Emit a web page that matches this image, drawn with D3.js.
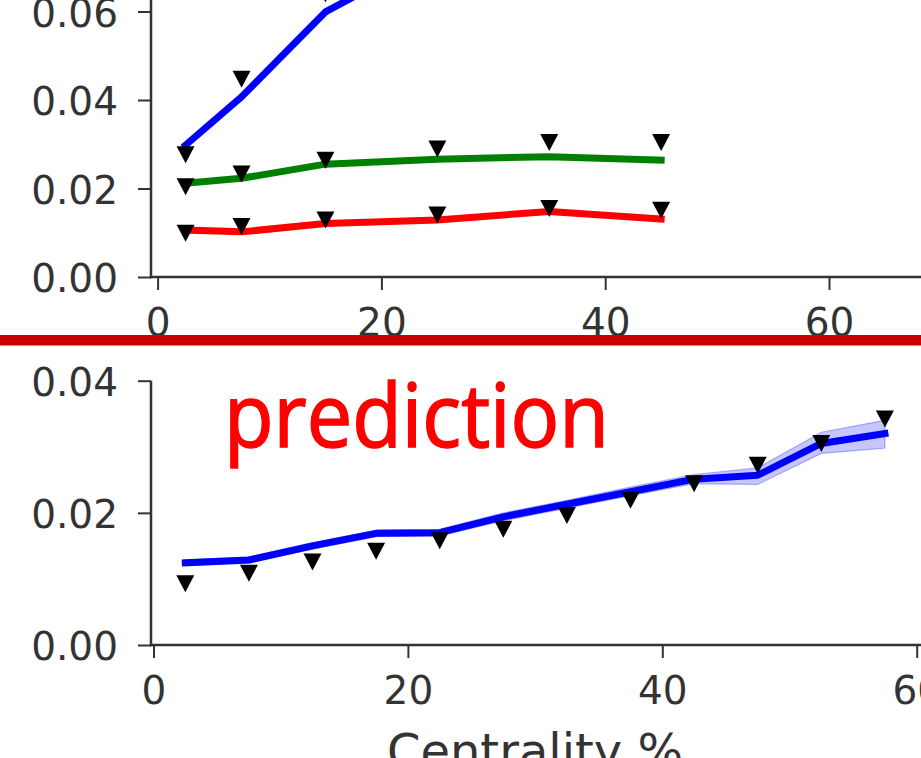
<!DOCTYPE html>
<html>
<head>
<meta charset="utf-8">
<script src="https://cdn.jsdelivr.net/npm/d3@7"></script>
<style>
  html, body { margin: 0; padding: 0; background: #fff; overflow: hidden; }
  svg { display: block; }
</style>
</head>
<body>
<svg id="chart" width="921" height="758"></svg>
<script>
// ---- Upper panel: three measured series with model curves ----
const topX = [2.5, 7.5, 15, 25, 35, 45];
const topBlueLine  = [0.0298, 0.0407, 0.0599, 0.0735, 0.0800, 0.0850];
const topBlueData  = [0.0276, 0.0447, 0.0640, 0.0780, 0.0850, 0.0900];
const topGreenLine = [0.0212, 0.0223, 0.0255, 0.0266, 0.0272, 0.0264];
const topGreenData = [0.0204, 0.0233, 0.0264, 0.0289, 0.0304, 0.0304];
const topRedLine   = [0.0106, 0.0102, 0.0121, 0.0129, 0.0148, 0.0131];
const topRedData   = [0.0099, 0.0114, 0.0129, 0.0140, 0.0155, 0.0151];
const topXTicks = [0, 20, 40, 60];
const topYTicks = [0.00, 0.02, 0.04, 0.06];

// ---- Lower panel: prediction with uncertainty band ----
const botX = [2.5, 7.5, 12.5, 17.5, 22.5, 27.5, 32.5, 37.5, 42.5, 47.5, 52.5, 57.5];
const botLine = [0.01245, 0.01286, 0.0150, 0.0169, 0.0170, 0.0194, 0.0213, 0.0232, 0.0251, 0.0257, 0.0305, 0.0320];
const botLow  = [0.0120, 0.0124, 0.0145, 0.0164, 0.0165, 0.0188, 0.0207, 0.0226, 0.0244, 0.0243, 0.0290, 0.0298];
const botHigh = [0.0129, 0.0133, 0.0155, 0.0174, 0.0175, 0.0200, 0.0219, 0.0239, 0.0258, 0.0268, 0.0322, 0.0340];
const botData = [0.00927, 0.01084, 0.01256, 0.01417, 0.01578, 0.0175, 0.0196, 0.0219, 0.0244, 0.0272, 0.0305, 0.0342];
const botXTicks = [0, 20, 40, 60];
const botYTicks = [0.00, 0.02, 0.04];

const AXIS = "#333333";
const FONT = "DejaVu Sans, sans-serif";
const svg = d3.select("#chart");

function panel(cfg) {
  const g = svg.append("g");
  const x = d3.scaleLinear().domain([0, 60]).range(cfg.xRange);
  const y = d3.scaleLinear().domain(cfg.yDomain).range(cfg.yRange);

  // uncertainty bands
  cfg.bands.forEach(b => {
    const pts = cfg.xs.map((v, i) => ({x: v, lo: b.lo[i], hi: b.hi[i]}));
    g.append("path")
      .datum(pts)
      .attr("d", d3.area().x(d => x(d.x)).y0(d => y(d.lo)).y1(d => y(d.hi)))
      .attr("fill", b.fill)
      .attr("stroke", b.edge)
      .attr("stroke-width", 1.2);
  });

  // model curves
  cfg.lines.forEach(l => {
    const pts = cfg.xs.map((v, i) => ({x: v, y: l.values[i]}));
    g.append("path")
      .datum(pts)
      .attr("d", d3.line().x(d => x(d.x)).y(d => y(d.y)))
      .attr("fill", "none")
      .attr("stroke", l.color)
      .attr("stroke-width", 7)
      .attr("stroke-linecap", "square")
      .attr("stroke-linejoin", "round");
  });

  // measured points as downward triangles
  const tri = "M-9,-8.5L9,-8.5L0,8.5Z";
  cfg.points.forEach(p => {
    g.selectAll(null)
      .data(cfg.xs.map((v, i) => ({x: v, y: p[i]})))
      .join("path")
      .attr("d", tri)
      .attr("transform", d => `translate(${x(d.x)},${y(d.y)})`)
      .attr("fill", "#000");
  });

  // axes
  const xAxis = g.append("g")
    .attr("transform", `translate(0,${cfg.yRange[0]})`)
    .call(d3.axisBottom(x).tickValues(cfg.xTicks).tickFormat(d3.format("d"))
      .tickSize(13).tickPadding(18));
  const yAxis = g.append("g")
    .attr("transform", `translate(${cfg.spineX},0)`)
    .call(d3.axisLeft(y).tickValues(cfg.yTicks).tickFormat(d3.format(".2f"))
      .tickSize(13).tickPadding(20));

  [xAxis, yAxis].forEach(a => {
    a.select(".domain").remove();
    a.selectAll(".tick line").attr("stroke", AXIS).attr("stroke-width", 2);
    a.selectAll(".tick text")
      .attr("fill", AXIS)
      .attr("font-family", FONT)
      .attr("font-size", 39);
  });
  yAxis.selectAll(".tick text").attr("dy", "0.38em");

  // spines
  g.append("line")
    .attr("x1", cfg.spineX).attr("x2", 925)
    .attr("y1", cfg.yRange[0]).attr("y2", cfg.yRange[0])
    .attr("stroke", AXIS).attr("stroke-width", 2.5);
  g.append("line")
    .attr("x1", cfg.spineX).attr("x2", cfg.spineX)
    .attr("y1", cfg.yRange[0] + 1.25).attr("y2", cfg.spineTop)
    .attr("stroke", AXIS).attr("stroke-width", 2.5);

  return {g, x, y};
}

// upper panel
panel({
  xs: topX,
  xRange: [157.6, 829],
  yDomain: [0, 0.06],
  yRange: [277, 11.5],
  spineX: 151,
  spineTop: -10,
  xTicks: topXTicks,
  yTicks: topYTicks,
  bands: [
    {lo: topBlueLine.map(v => v - 0.0004), hi: topBlueLine.map(v => v + 0.0004),
     fill: "rgba(0,0,255,0.25)", edge: "rgba(0,0,255,0.15)"},
    {lo: topGreenLine.map(v => v - 0.0003), hi: topGreenLine.map(v => v + 0.0003),
     fill: "rgba(0,128,0,0.25)", edge: "rgba(0,128,0,0.15)"}
  ],
  lines: [
    {values: topBlueLine, color: "#0000ff"},
    {values: topGreenLine, color: "#008000"},
    {values: topRedLine, color: "#ff0000"}
  ],
  points: [topBlueData, topGreenData, topRedData]
});

// lower panel
panel({
  xs: botX,
  xRange: [153.5, 916.7],
  yDomain: [0, 0.04],
  yRange: [645, 380.7],
  spineX: 151,
  spineTop: 380.7,
  xTicks: botXTicks,
  yTicks: botYTicks,
  bands: [
    {lo: botLow, hi: botHigh, fill: "rgba(0,0,255,0.22)", edge: "rgba(0,0,255,0.28)"}
  ],
  lines: [
    {values: botLine, color: "#0000ff"}
  ],
  points: [botData]
});

// x-axis title of the lower panel
svg.append("text")
  .attr("x", 535)
  .attr("y", 768)
  .attr("text-anchor", "middle")
  .attr("font-family", FONT)
  .attr("font-size", 48)
  .attr("fill", AXIS)
  .text("Centrality %");

// panel annotation
svg.append("text")
  .attr("x", 224)
  .attr("y", 446.7)
  .attr("font-family", "Open Sans, sans-serif")
  .attr("font-size", 87)
  .attr("textLength", 385)
  .attr("lengthAdjust", "spacingAndGlyphs")
  .attr("fill", "#ff0000")
  .attr("stroke", "#ff0000")
  .attr("stroke-width", 1.6)
  .text("prediction");

// separator between the panels
svg.append("rect")
  .attr("x", 0).attr("y", 335)
  .attr("width", 921).attr("height", 10.5)
  .attr("fill", "#cc0000");
</script>
</body>
</html>
